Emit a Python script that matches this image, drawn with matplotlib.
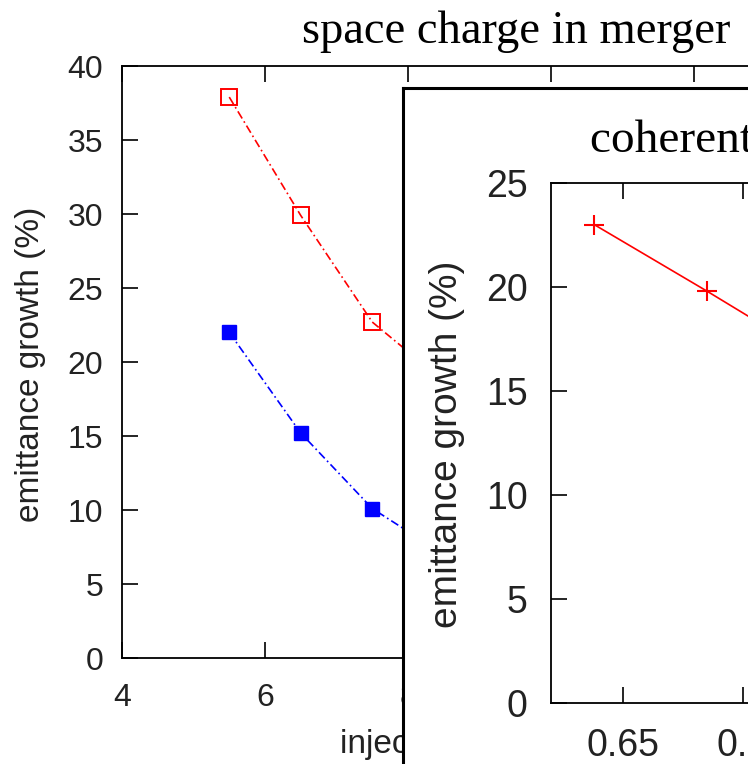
import matplotlib
matplotlib.use("Agg")
import matplotlib.pyplot as plt

plt.rcParams["font.family"] = ["Liberation Sans", "DejaVu Sans"]

# main panel: emittance growth vs injection energy
energy = [5.5, 6.5, 7.5, 8.5]
growth_red = [37.9, 29.9, 22.7, 18.7]
growth_blue = [22.0, 15.2, 10.1, 7.0]
main_xticks = [4, 6, 8, 10, 12, 14]
main_yticks = [0, 5, 10, 15, 20, 25, 30, 35, 40]

# overlaid panel: coherent case
coh_x = [0.638, 0.685, 0.735]
coh_y = [23.0, 19.8, 16.3]
coh_xticks = [0.65, 0.70, 0.75, 0.80]
coh_yticks = [0, 5, 10, 15, 20, 25]

W, H = 748, 764
fig = plt.figure(figsize=(W / 100, H / 100), dpi=100)
fig.patch.set_facecolor("white")


def px(x0, y0, x1, y1):
    # pixel box (left, top, right, bottom) -> figure fraction rect
    return [x0 / W, 1 - y1 / H, (x1 - x0) / W, (y1 - y0) / H]


def style_axes(ax, fs, pad_x, pad_y):
    for s in ax.spines.values():
        s.set_linewidth(1.3)
        s.set_color("black")
    ax.tick_params(direction="in", length=11.5, width=1.2, top=True, right=True,
                   labelsize=fs, labelcolor="#222222")
    ax.tick_params(axis="x", pad=pad_x)
    ax.tick_params(axis="y", pad=pad_y)


# ---- main axes ----
ax = fig.add_axes(px(122, 66, 122 + 10 * 71.5, 658))
ax.plot(energy, growth_red, color="red", lw=1.2, ls=(0, (5, 2, 1, 2)),
        marker="s", ms=11, mfc="none", mec="red", mew=1.4)
ax.plot(energy, growth_blue, color="blue", lw=1.2, ls=(0, (5, 2, 1, 2)),
        marker="s", ms=10.5, mfc="blue", mec="blue")
ax.set_xlim(4, 14)
ax.set_ylim(0, 40)
ax.set_xticks(main_xticks)
ax.set_yticks(main_yticks)
style_axes(ax, 23, 18, 13.5)
ax.text(340 / W, 1 - 753 / H, "injection energy (MeV)", transform=fig.transFigure,
        fontsize=24, color="#222222", ha="left", va="baseline")
ax.text(31 / W, 1 - 364 / H, "emittance growth (%)", transform=fig.transFigure,
        fontsize=24, color="#222222", rotation=90, ha="center", va="center")

fig.text(302 / W, 1 - 43 / H, "space charge in merger", family="Liberation Serif",
         fontsize=33.5, ha="left", va="baseline")

# ---- overlaid panel (white sheet with border) ----
sheet = fig.add_axes(px(403, 88, 403 + 600, 764 + 50), zorder=5)
sheet.set_xticks([])
sheet.set_yticks([])
sheet.set_facecolor("white")
for s in sheet.spines.values():
    s.set_linewidth(2.2)
sheet.text(590 / W, 1 - 152 / H, "coherent CSR", transform=fig.transFigure,
           family="Liberation Serif", fontsize=34, ha="left", va="baseline")
sheet.text(447 / W, 1 - 444 / H, "emittance growth (%)", transform=fig.transFigure,
           fontsize=28, color="#222222", rotation=90, ha="center", va="center")

ax2 = fig.add_axes(px(551, 183, 551 + 0.18 * 2400, 703), zorder=6)
ax2.plot(coh_x, coh_y, color="red", lw=1.2, marker="+", ms=15, mew=1.5)
ax2.set_xlim(0.62, 0.80)
ax2.set_ylim(0, 25)
ax2.set_xticks(coh_xticks)
ax2.set_xticklabels(["0.65", "0.7", "0.75", "0.8"])
ax2.set_yticks(coh_yticks)
style_axes(ax2, 27, 18, 17)

fig.savefig("out.png", dpi=100)
